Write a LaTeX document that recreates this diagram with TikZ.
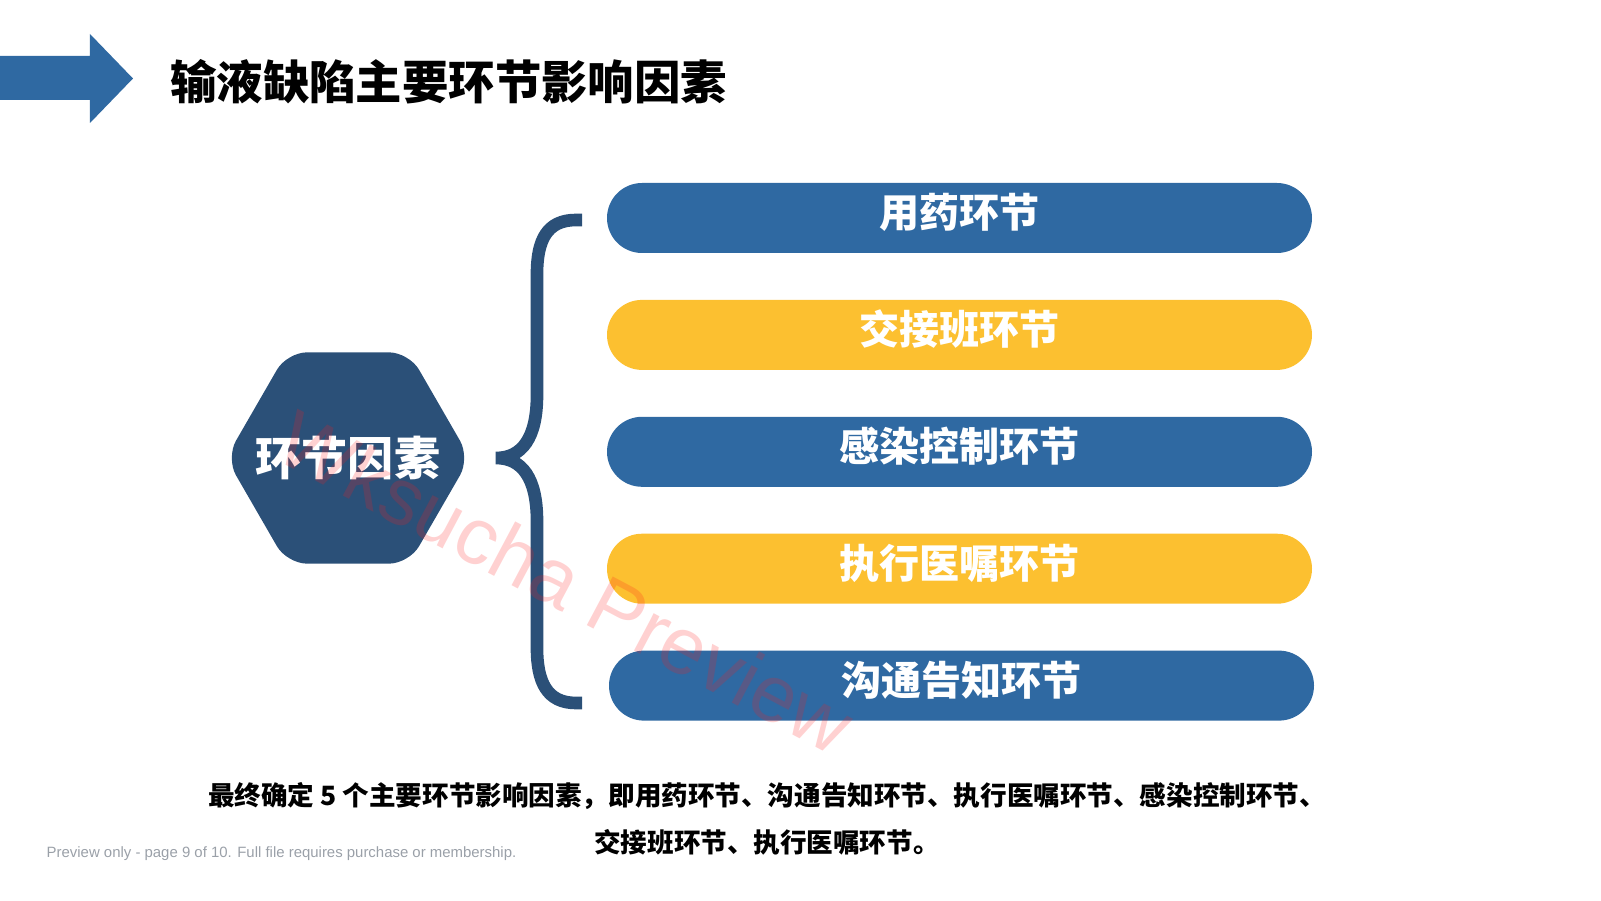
\documentclass[tikz,border=0pt]{standalone}
\usepackage{fontspec}
\setmainfont{Liberation Sans}
\newfontfamily\cjk{Noto Sans CJK SC}
\usetikzlibrary{positioning, shapes.geometric, shapes.misc}
\definecolor{blunotte}{HTML}{2B5078}
\definecolor{bluchiaro}{HTML}{2F69A2}
\definecolor{giallo}{HTML}{FCC030}
\definecolor{grigio}{HTML}{9AA0A8}
\tikzset{
    fascia/.style={rounded rectangle, minimum width=7.05cm, minimum height=0.70cm, inner sep=0pt, text=white, text height=10pt, text depth=4.5pt, font=\cjk\bfseries\fontsize{11.4}{12}\selectfont},
    esagono/.style={regular polygon, regular polygon sides=6, minimum size=2.44cm, inner sep=0pt, fill=blunotte, rounded corners=0.2cm},
    scritta/.style={text=white, font=\cjk\bfseries\fontsize{13.1}{14}\selectfont},
    graffa/.style={draw=blunotte, line width=3.6pt}
}

\begin{document}
\begin{tikzpicture}
        \useasboundingbox (0,0) rectangle (16.01,9.00);
        %freccia e titolo
        \fill[bluchiaro] (0,8.44) -- (0.90,8.44) -- (0.90,8.66) -- (1.33,8.215) -- (0.90,7.77) -- (0.90,8.00) -- (0,8.00) -- cycle;
        \node[anchor=west, font=\cjk\bfseries\fontsize{13.2}{14}\selectfont] (titolo) at (1.58,8.18) {输液缺陷主要环节影响因素};
        %esagono
        \node[esagono, label={[scritta]center:环节因素}] (fattori) at (3.48,4.42) {};
        %graffa
        \draw[graffa] (5.82,6.80) -- (5.76,6.80) .. controls (5.47,6.80) and (5.37,6.60) .. (5.37,6.26) -- (5.37,5.05) .. controls (5.37,4.62) and (5.22,4.42) .. (4.96,4.42) .. controls (5.22,4.42) and (5.37,4.22) .. (5.37,3.79) -- (5.37,2.52) .. controls (5.37,2.18) and (5.47,1.97) .. (5.76,1.97) -- (5.82,1.97);
        %fasce
        \node[fascia, fill=bluchiaro] (uso) at (9.595,6.82) {用药环节};
        \node[fascia, fill=giallo, below=0.455cm of uso] (turno) {交接班环节};
        \node[fascia, fill=bluchiaro, below=0.455cm of turno] (infezione) {感染控制环节};
        \node[fascia, fill=giallo, below=0.455cm of infezione] (ordini) {执行医嘱环节};
        \node[fascia, fill=bluchiaro, below=0.455cm of ordini, xshift=0.02cm] (comunica) {沟通告知环节};
        %testo in basso
        \node[align=center, font=\cjk\bfseries\fontsize{7.56}{13.4}\selectfont] (sintesi) at (7.67,0.815) {最终确定 5 个主要环节影响因素，即用药环节、沟通告知环节、执行医嘱环节、感染控制环节、\\交接班环节、执行医嘱环节。};
        \node[anchor=west, text=grigio, font=\fontsize{4.25}{5}\selectfont, inner sep=0pt] (nota) at (0.46,0.46) {Preview only - page 9 of 10. Full file requires purchase or membership.};
        %filigrana
        \node[rotate=-28, text=red!90!white, opacity=0.2, font=\fontsize{22.8}{24}\selectfont] (filigrana) at (5.66,3.18) {Wksucha Preview};
\end{tikzpicture}
\end{document}
